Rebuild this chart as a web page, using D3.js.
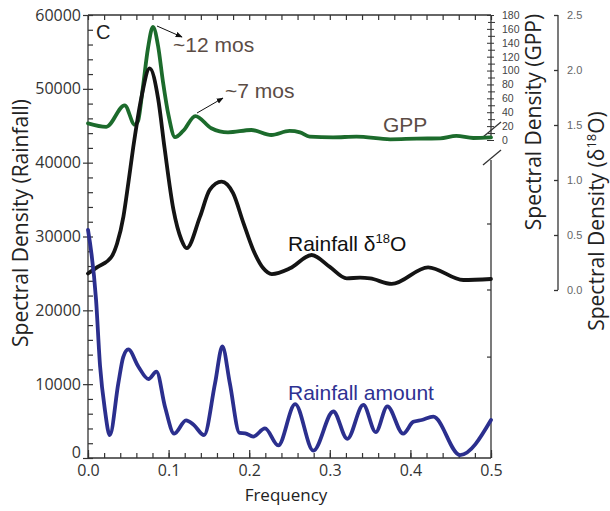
<!DOCTYPE html>
<html><head><meta charset="utf-8">
<script src="https://cdn.jsdelivr.net/npm/d3@7"></script>
<style>body{margin:0;background:#fff}</style>
</head><body><svg id="c" width="610" height="511"></svg>
<script>
// ---- data ----
const xTickVals = [0, 0.1, 0.2, 0.3, 0.4, 0.5];
const rainTickVals = [0, 10000, 20000, 30000, 40000, 50000, 60000];
const gppTickVals = [0, 20, 40, 60, 80, 100, 120, 140, 160, 180];
const d18TickVals = [0, 0.5, 1.0, 1.5, 2.0, 2.5];
const rightEdgeTicks = [0.6, 0, -0.61];

const rainFreq = [0, 0.01, 0.015, 0.021, 0.027, 0.0376, 0.0438, 0.050, 0.0624, 0.075, 0.085, 0.0955, 0.107, 0.1216, 0.131, 0.144, 0.1576, 0.1667, 0.176, 0.188, 0.195, 0.205, 0.2196, 0.236, 0.257, 0.2796, 0.3044, 0.3217, 0.3416, 0.357, 0.3714, 0.391, 0.4036, 0.414, 0.4284, 0.4615, 0.5];
const rainVal  = [30900, 21400, 12400, 6500, 3100, 10100, 13700, 14700, 12400, 10700, 11700, 6950, 3300, 5100, 4500, 3100, 10100, 15100, 10100, 3400, 3350, 2900, 4000, 1700, 7300, 1000, 6300, 2600, 7200, 3500, 7000, 3300, 4900, 5150, 5600, 400, 5150];

const d18Freq = [0, 0.012, 0.029, 0.036, 0.044, 0.050, 0.056, 0.066, 0.0765, 0.087, 0.095, 0.106, 0.116, 0.1224, 0.139, 0.151, 0.1658, 0.180, 0.193, 0.205, 0.2175, 0.228, 0.2506, 0.2775, 0.300, 0.321, 0.3375, 0.350, 0.3768, 0.422, 0.4657, 0.5];
const d18Val  = [0.15, 0.21, 0.30, 0.42, 0.67, 0.97, 1.29, 1.74, 2.015, 1.74, 1.29, 0.73, 0.455, 0.38, 0.667, 0.91, 0.985, 0.88, 0.606, 0.364, 0.197, 0.145, 0.197, 0.318, 0.21, 0.106, 0.112, 0.105, 0.055, 0.206, 0.091, 0.10];

const gppFreq = [0, 0.0227, 0.0455, 0.058, 0.062, 0.068, 0.0744, 0.0806, 0.087, 0.093, 0.100, 0.108, 0.118, 0.1332, 0.153, 0.1737, 0.2026, 0.2274, 0.250, 0.263, 0.275, 0.304, 0.333, 0.375, 0.408, 0.437, 0.457, 0.478, 0.5];
const gppVal  = [24, 19, 50, 22, 27, 75, 132, 163, 135, 84, 35, 4, 13, 34.5, 17, 11, 14.4, 7.2, 13, 11, 4.8, 3.8, 4.8, 1, 2, 2.4, 5.8, 2.9, 3.8];

// ---- layout ----
const L = 88, R = 491, T = 15, B = 458;
const svg = d3.select("#c");
const x = d3.scaleLinear().domain([0, 0.5]).range([L, R]);
const yRain = d3.scaleLinear().domain([0, 60000]).range([B, T]);
const yGPP = d3.scaleLinear().domain([0, 180]).range([140, T]);
const yD18 = d3.scaleLinear().domain([0, 2.5]).range([290, T]);
const axisCol = "#333";
const tickFont = "'Open Sans', sans-serif";

// frame
const frame = svg.append("g").attr("stroke", axisCol).attr("stroke-width", 1.3).attr("fill", "none");
frame.append("line").attr("x1", L).attr("x2", R).attr("y1", T).attr("y2", T);
frame.append("line").attr("x1", L).attr("x2", R).attr("y1", B).attr("y2", B);
frame.append("line").attr("x1", L).attr("x2", L).attr("y1", T).attr("y2", B);
frame.append("line").attr("x1", R).attr("x2", R).attr("y1", T).attr("y2", 139);
frame.append("line").attr("x1", R).attr("x2", R).attr("y1", 160).attr("y2", B);
// break marks
frame.append("line").attr("x1", R - 8).attr("x2", R + 10).attr("y1", 137).attr("y2", 122);
frame.append("line").attr("x1", R - 8).attr("x2", R + 10).attr("y1", 165).attr("y2", 150);

// bottom axis
const minorX = d3.range(0, 0.5001, 0.02);
svg.append("g").attr("transform", `translate(0,${B})`)
  .call(d3.axisBottom(x).tickValues(minorX).tickSize(-5).tickFormat(""))
  .call(g => g.select(".domain").remove())
  .call(g => g.selectAll("line").attr("stroke", axisCol).attr("stroke-width", 1.2));
svg.append("g").attr("transform", `translate(0,${B})`)
  .call(d3.axisBottom(x).tickValues(xTickVals).tickSize(-8).tickPadding(7).tickFormat(d3.format(".1f")))
  .call(g => g.select(".domain").remove())
  .call(g => g.selectAll("line").attr("stroke", axisCol).attr("stroke-width", 1.2))
  .call(g => g.selectAll("text").attr("font-family", tickFont).attr("font-size", 16).attr("fill", "#333"));
// top ticks
svg.append("g").attr("transform", `translate(0,${T})`)
  .call(d3.axisTop(x).tickValues(minorX).tickSize(-5).tickFormat(""))
  .call(g => g.select(".domain").remove())
  .call(g => g.selectAll("line").attr("stroke", axisCol).attr("stroke-width", 1.2));

// left axis
svg.append("g").attr("transform", `translate(${L},0)`)
  .call(d3.axisLeft(yRain).tickValues(d3.range(0, 60001, 2000)).tickSize(-5).tickFormat(""))
  .call(g => g.select(".domain").remove())
  .call(g => g.selectAll("line").attr("stroke", axisCol).attr("stroke-width", 1.2));
svg.append("g").attr("transform", `translate(${L},0)`)
  .call(d3.axisLeft(yRain).tickValues(rainTickVals).tickSize(5).tickPadding(2).tickFormat(d3.format("d")))
  .call(g => g.select(".domain").remove())
  .call(g => g.selectAll("line").attr("stroke", axisCol).attr("stroke-width", 1.2))
  .call(g => g.selectAll("text").attr("font-family", tickFont).attr("font-size", 16).attr("fill", "#333"))
  .call(g => g.selectAll("text").filter(d => d === 0).attr("dy", "-0.05em"));

// GPP axis (on right frame)
svg.append("g").attr("transform", `translate(${R},0)`)
  .call(d3.axisLeft(yGPP).tickValues(d3.range(10, 180, 20)).tickSize(4).tickFormat(""))
  .call(g => g.select(".domain").remove())
  .call(g => g.selectAll("line").attr("stroke", axisCol).attr("stroke-width", 1).attr("x2", 4).attr("x1", -3));
svg.append("g").attr("transform", `translate(${R},0)`)
  .call(d3.axisRight(yGPP).tickValues(gppTickVals).tickSize(3).tickPadding(8).tickFormat(d3.format("d")))
  .call(g => g.select(".domain").remove())
  .call(g => g.selectAll("line").attr("stroke", axisCol).attr("stroke-width", 1).attr("x1", -4))
  .call(g => g.selectAll("text").attr("font-family", "'Liberation Sans', Arial, sans-serif").attr("font-size", 10.5).attr("fill", "#444"));
// right edge inner ticks
svg.append("g").selectAll("line").data(rightEdgeTicks).join("line")
  .attr("x1", R - 4).attr("x2", R).attr("y1", d => yD18(d)).attr("y2", d => yD18(d))
  .attr("stroke", axisCol).attr("stroke-width", 1.2);

// d18O axis
svg.append("g").attr("transform", `translate(558,0)`)
  .call(d3.axisRight(yD18).tickValues(d18TickVals).tickSize(-4).tickPadding(9).tickFormat(d3.format(".1f")))
  .call(g => g.select(".domain").attr("d", `M0,${yD18(2.5)}V${yD18(0)}`).attr("stroke", axisCol).attr("stroke-width", 1.3))
  .call(g => g.selectAll("line").attr("stroke", axisCol).attr("stroke-width", 1.3))
  .call(g => g.selectAll("text").attr("font-family", "'Liberation Sans', Arial, sans-serif").attr("font-size", 11).attr("fill", "#666"));

// ---- curves ----
const curve = d3.curveMonotoneX;
function series(fArr, vArr, y, color) {
  const pts = fArr.map((f, i) => [f, vArr[i]]);
  svg.append("path").datum(pts)
    .attr("d", d3.line().x(d => x(d[0])).y(d => y(d[1])).curve(curve))
    .attr("fill", "none").attr("stroke", color).attr("stroke-width", 3.8)
    .attr("stroke-linejoin", "round").attr("stroke-linecap", "round");
}
series(gppFreq, gppVal, yGPP, "#1c6b2c");
series(d18Freq, d18Val, yD18, "#141414");
series(rainFreq, rainVal, yRain, "#2b2f8e");

// ---- annotations ----
const annFont = "'Liberation Sans', Arial, sans-serif";
const defs = svg.append("defs");
defs.append("marker").attr("id", "ah").attr("viewBox", "0 0 10 10").attr("refX", 9).attr("refY", 5)
  .attr("markerWidth", 7).attr("markerHeight", 7).attr("orient", "auto")
  .append("path").attr("d", "M0,1L10,5L0,9Z").attr("fill", "#111");
svg.append("line").attr("x1", 157).attr("y1", 26).attr("x2", 182).attr("y2", 37)
  .attr("stroke", "#111").attr("stroke-width", 1).attr("marker-end", "url(#ah)");
svg.append("line").attr("x1", 197).attr("y1", 113).attr("x2", 223).attr("y2", 98)
  .attr("stroke", "#111").attr("stroke-width", 1).attr("marker-end", "url(#ah)");

svg.append("text").attr("x", 96).attr("y", 39).text("C")
  .attr("font-family", annFont).attr("font-size", 20).attr("fill", "#222");
svg.append("text").attr("x", 173).attr("y", 52).text("~12 mos")
  .attr("font-family", annFont).attr("font-size", 21).attr("fill", "#5b4c45");
svg.append("text").attr("x", 225).attr("y", 98).text("~7 mos")
  .attr("font-family", annFont).attr("font-size", 21).attr("fill", "#5b4c45");
svg.append("text").attr("x", 383).attr("y", 132).text("GPP")
  .attr("font-family", annFont).attr("font-size", 21).attr("fill", "#5b4c45");
const t1 = svg.append("text").attr("x", 288).attr("y", 251)
  .attr("font-family", annFont).attr("font-size", 21).attr("fill", "#111");
t1.append("tspan").text("Rainfall δ");
t1.append("tspan").text("18").attr("font-size", 13).attr("dy", -8);
t1.append("tspan").text("O").attr("dy", 8);
svg.append("text").attr("x", 288).attr("y", 400).text("Rainfall amount")
  .attr("font-family", annFont).attr("font-size", 21).attr("fill", "#2e3192");

// ---- axis titles ----
svg.append("text").attr("transform", "translate(28,223) rotate(-90)").attr("text-anchor", "middle")
  .attr("font-family", tickFont).attr("font-size", 21).attr("fill", "#222").text("Spectral Density (Rainfall)");
svg.append("text").attr("transform", "translate(541,122) rotate(-90)").attr("text-anchor", "middle")
  .attr("font-family", tickFont).attr("font-size", 21).attr("fill", "#222").text("Spectral Density (GPP)");
const t3 = svg.append("text").attr("transform", "translate(604,221) rotate(-90)").attr("text-anchor", "middle")
  .attr("font-family", tickFont).attr("font-size", 21).attr("fill", "#222");
t3.append("tspan").text("Spectral Density (δ");
t3.append("tspan").text("18").attr("font-size", 13).attr("dy", -8);
t3.append("tspan").text("O)").attr("dy", 8);
svg.append("text").attr("x", 286).attr("y", 501).attr("text-anchor", "middle")
  .attr("font-family", tickFont).attr("font-size", 17).attr("fill", "#222").text("Frequency");
</script></body></html>
